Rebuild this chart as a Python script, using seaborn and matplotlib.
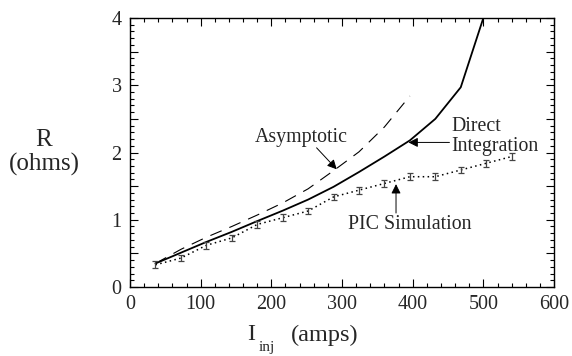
import matplotlib
matplotlib.use("Agg")
import matplotlib.pyplot as plt
import seaborn as sns
import pandas as pd
import numpy as np
from matplotlib.ticker import MultipleLocator, FuncFormatter

sns.set_theme(style="white")
plt.rcParams['font.family'] = ['Liberation Serif', 'DejaVu Serif']

# Data
i_direct = [36, 72, 108, 144, 180, 216, 252, 288, 324, 360, 396, 432, 468, 504]
r_direct = [0.35, 0.51, 0.67, 0.82, 0.98, 1.135, 1.30, 1.49, 1.71, 1.94, 2.18, 2.50, 2.97, 4.13]

i_asym = [36, 72, 108, 144, 180, 216, 252, 288, 324, 360, 396]
r_asym = [0.35, 0.56, 0.74, 0.90, 1.07, 1.25, 1.46, 1.73, 2.01, 2.38, 2.84]

i_pic = [36, 72, 108, 144, 180, 216, 252, 288, 324, 360, 396, 432, 468, 504, 540]
r_pic = [0.33, 0.43, 0.62, 0.73, 0.93, 1.03, 1.13, 1.34, 1.44, 1.54, 1.64, 1.64, 1.74, 1.84, 1.94]
r_pic_err = [0.05] * 15

fig = plt.figure(figsize=(5.72, 3.56), dpi=100)
ax = fig.add_axes([0.2273, 0.1938, 0.7413, 0.7556])

df_d = pd.DataFrame({"I": i_direct, "R": r_direct})
df_a = pd.DataFrame({"I": i_asym, "R": r_asym})
df_p = pd.DataFrame({"I": i_pic, "R": r_pic})

sns.lineplot(data=df_d, x="I", y="R", ax=ax, color="black", lw=1.3, sort=False)
sns.lineplot(data=df_a, x="I", y="R", ax=ax, color="black", lw=0.8, sort=False)
ax.lines[-1].set_dashes([11, 7.5])
sns.lineplot(data=df_p, x="I", y="R", ax=ax, color="black", lw=1.1, sort=False)
ax.lines[-1].set_dashes([1.0, 2.2])
ax.errorbar(i_pic, r_pic, yerr=r_pic_err, fmt='none', ecolor='#444444',
            elinewidth=0.9, capsize=2.2, capthick=0.9)

ax.set_xlim(0, 600)
ax.set_ylim(0, 4)
ax.set_xlabel("")
ax.set_ylabel("")

ax.xaxis.set_major_locator(MultipleLocator(100))
ax.xaxis.set_minor_locator(MultipleLocator(20))
ax.yaxis.set_major_locator(MultipleLocator(0.5))
ax.yaxis.set_minor_locator(MultipleLocator(0.1))
ax.yaxis.set_major_formatter(FuncFormatter(lambda v, p: f"{int(round(v))}" if abs(v - round(v)) < 1e-6 else ""))

ax.tick_params(which='both', direction='in', top=True, right=True, bottom=True, left=True,
               color='black', width=0.8)
ax.tick_params(which='major', length=6, labelsize=14.5, pad=6)
ax.tick_params(which='minor', length=3)
for s in ax.spines.values():
    s.set_color('black')
    s.set_linewidth(1.0)

# Axis labels
fig.text(44 / 572, 1 - 140 / 356, "R", ha='center', va='center', fontsize=18)
fig.text(44 / 572, 1 - 164 / 356, "(ohms)", ha='center', va='center', fontsize=18)
fig.text(251.5 / 572, 1 - 335 / 356, "I", ha='center', va='center', fontsize=17.5)
fig.text(267 / 572, 1 - 347.5 / 356, "inj", ha='center', va='center', fontsize=11)
fig.text(324.5 / 572, 1 - 335 / 356, "(amps)", ha='center', va='center', fontsize=17.5)

# Annotations
arrow = dict(arrowstyle='-|>', color='black', lw=0.7, mutation_scale=14,
             shrinkA=0, shrinkB=0)
ax.text(242, 2.22, "Asymptotic", fontsize=14.3, ha='center', va='center')
ax.annotate("", xy=(292.5, 1.75), xytext=(264, 2.07), arrowprops=arrow)
ax.annotate("", xy=(394, 2.15), xytext=(452, 2.15), arrowprops=arrow)
ax.text(455, 2.24, "Direct\nIntegration", fontsize=14.3, ha='left', va='center',
        linespacing=1.05)
ax.annotate("", xy=(376.4, 1.53), xytext=(376.4, 1.10), arrowprops=arrow)
ax.text(309, 0.93, "PIC Simulation", fontsize=14.3, ha='left', va='center')

fig.savefig("out.png", dpi=100)
